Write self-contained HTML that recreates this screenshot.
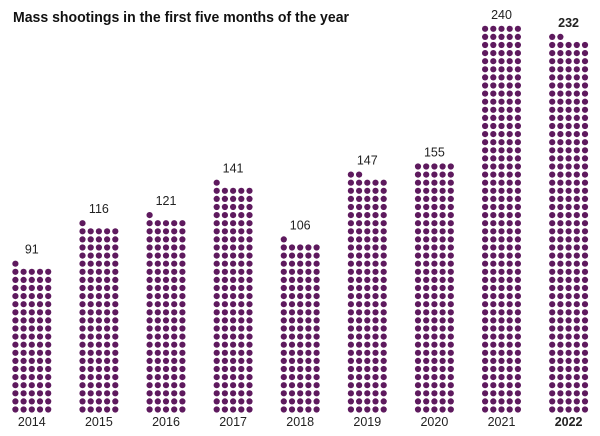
<!DOCTYPE html>
<html><head><meta charset="utf-8"><style>
html,body{margin:0;padding:0;background:#fff;}
svg{display:block;font-family:"Liberation Sans",sans-serif;}
</style></head><body>
<svg id="s" width="600" height="436" viewBox="0 0 600 436">
<text x="13" y="22" font-size="15" font-weight="bold" fill="#111" textLength="336" lengthAdjust="spacingAndGlyphs">Mass shootings in the first five months of the year</text>
</svg>
<script>
var s=document.getElementById('s');
var data=[[2014,91],[2015,116],[2016,121],[2017,141],[2018,106],[2019,147],[2020,155],[2021,240],[2022,232]];
var pitch=8.1,bottom=409.5,out='';
data.forEach(function(d,i){
  var cx=31.8+i*67.1, x0=cx-2*8.2, n=d[1];
  for(var k=0;k<n;k++){
    var r=Math.floor(k/5),c=k%5;
    out+='<circle cx="'+(x0+c*8.2).toFixed(1)+'" cy="'+(bottom-r*pitch).toFixed(1)+'" r="3.1" fill="#5e1a5e"/>';
  }
  var rows=Math.ceil(n/5), topY=bottom-(rows-1)*pitch;
  var b=d[0]==2022?' font-weight="bold"':'';
  out+='<text x="'+cx.toFixed(1)+'" y="'+(topY-10).toFixed(1)+'" font-size="12.5" text-anchor="middle" fill="#222"'+b+'>'+n+'</text>';
  out+='<text x="'+cx.toFixed(1)+'" y="426" font-size="12.5" text-anchor="middle" fill="#222"'+b+'>'+d[0]+'</text>';
});
s.insertAdjacentHTML('beforeend',out);
</script>
</body></html>
